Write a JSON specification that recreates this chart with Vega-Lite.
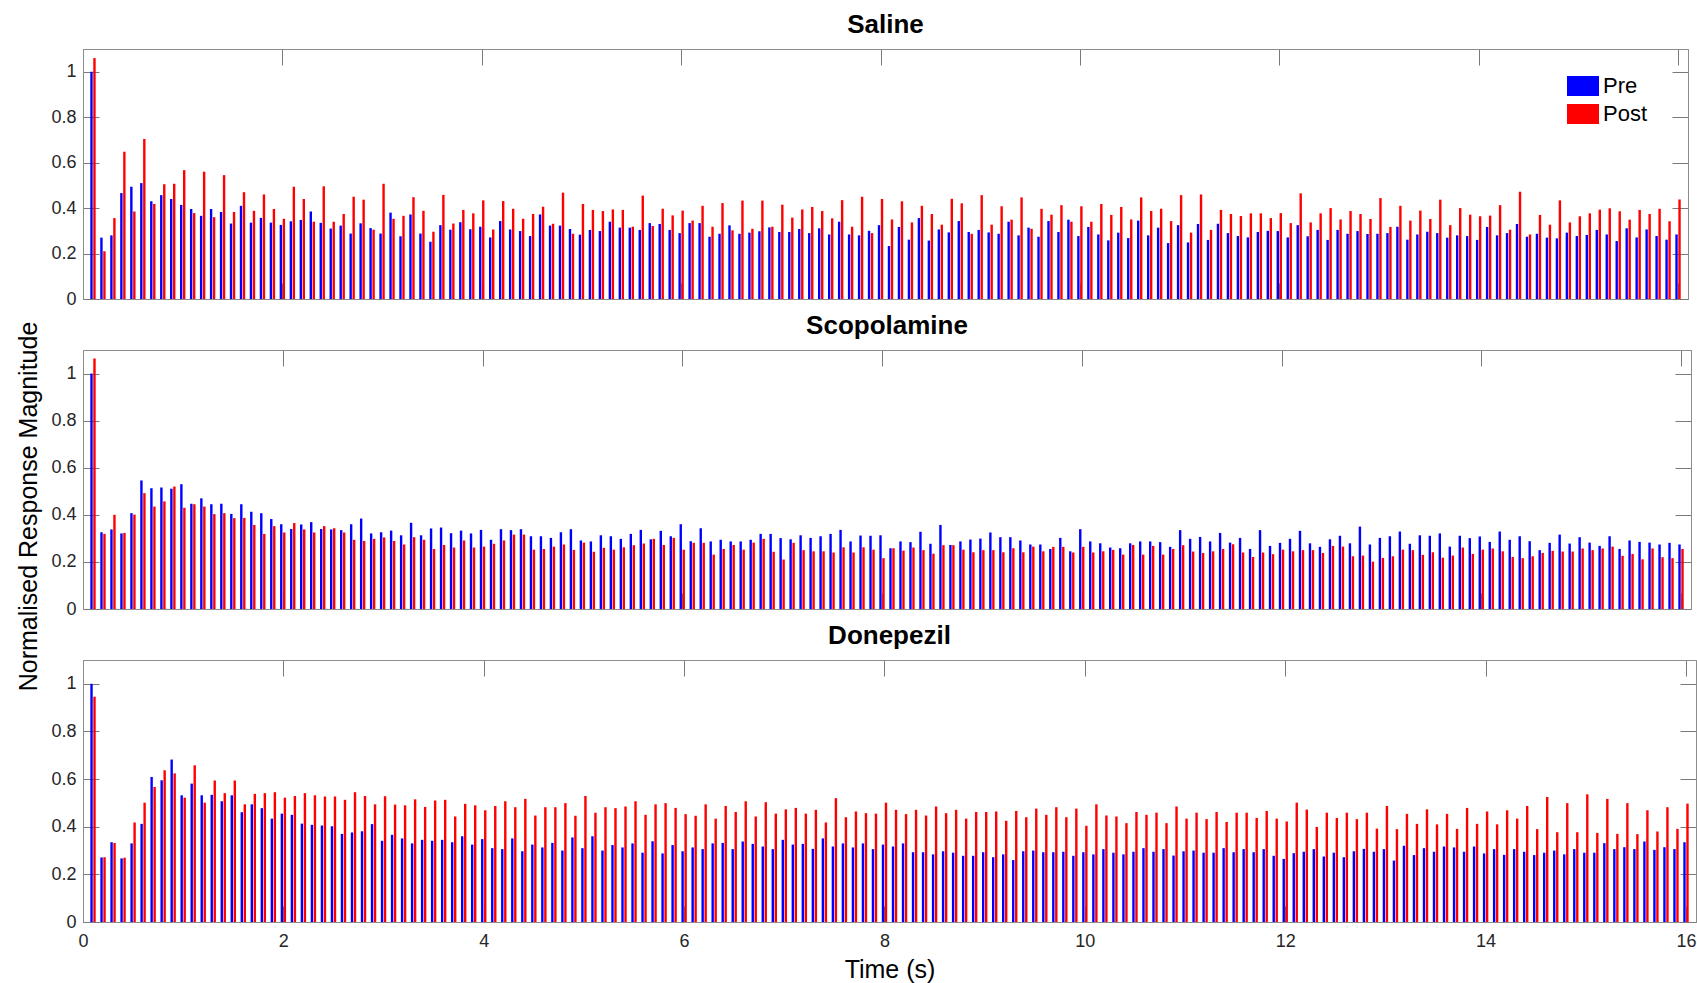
{
"$schema": "https://vega.github.io/schema/vega-lite/v6.json",
"padding": {"left": 15, "top": 11, "right": 0, "bottom": 0},
"spacing": 51,
"bounds": "flush",
"config": {
 "font": "Liberation Sans",
 "view": {"stroke": "#8c8c8c", "strokeWidth": 1},
 "axis": {"labelFont": "Liberation Sans", "labelFontSize": 18, "labelColor": "#262626", "tickColor": "#7a7a7a", "tickSize": -16, "domainColor": "#8c8c8c", "grid": false, "titleFont": "Liberation Sans", "titleFontSize": 25, "titleFontWeight": "normal", "titleColor": "#000000", "zindex": 1},
 "title": {"font": "Liberation Sans", "fontSize": 26, "fontWeight": "bold", "color": "#000000", "anchor": "middle", "baseline": "bottom", "offset": 11, "frame": "group"}
},
"resolve": {"legend": {"color": "independent"}},
"datasets": {
"sal": [
{"t":0.1,"Pre":1.0,"Post":1.06},{"t":0.2,"Pre":0.27,"Post":0.21},{"t":0.3,"Pre":0.28,"Post":0.356},{"t":0.4,"Pre":0.466,"Post":0.648},{"t":0.5,"Pre":0.494,"Post":0.385},{"t":0.6,"Pre":0.51,"Post":0.704},{"t":0.7,"Pre":0.43,"Post":0.418},{"t":0.8,"Pre":0.457,"Post":0.505},{"t":0.9,"Pre":0.44,"Post":0.507},{"t":1.0,"Pre":0.414,"Post":0.567},
{"t":1.1,"Pre":0.396,"Post":0.378},{"t":1.2,"Pre":0.366,"Post":0.56},{"t":1.3,"Pre":0.396,"Post":0.36},{"t":1.4,"Pre":0.383,"Post":0.545},{"t":1.5,"Pre":0.332,"Post":0.383},{"t":1.6,"Pre":0.41,"Post":0.47},{"t":1.7,"Pre":0.336,"Post":0.388},{"t":1.8,"Pre":0.357,"Post":0.46},{"t":1.9,"Pre":0.336,"Post":0.396},{"t":2.0,"Pre":0.326,"Post":0.353},
{"t":2.1,"Pre":0.342,"Post":0.494},{"t":2.2,"Pre":0.348,"Post":0.44},{"t":2.3,"Pre":0.385,"Post":0.34},{"t":2.4,"Pre":0.335,"Post":0.496},{"t":2.5,"Pre":0.31,"Post":0.34},{"t":2.6,"Pre":0.323,"Post":0.374},{"t":2.7,"Pre":0.288,"Post":0.45},{"t":2.8,"Pre":0.333,"Post":0.437},{"t":2.9,"Pre":0.312,"Post":0.305},{"t":3.0,"Pre":0.288,"Post":0.507},
{"t":3.1,"Pre":0.38,"Post":0.353},{"t":3.2,"Pre":0.276,"Post":0.366},{"t":3.3,"Pre":0.372,"Post":0.448},{"t":3.4,"Pre":0.288,"Post":0.388},{"t":3.5,"Pre":0.252,"Post":0.296},{"t":3.6,"Pre":0.325,"Post":0.458},{"t":3.7,"Pre":0.305,"Post":0.332},{"t":3.8,"Pre":0.338,"Post":0.392},{"t":3.9,"Pre":0.307,"Post":0.377},{"t":4.0,"Pre":0.318,"Post":0.434},
{"t":4.1,"Pre":0.271,"Post":0.306},{"t":4.2,"Pre":0.343,"Post":0.431},{"t":4.3,"Pre":0.306,"Post":0.397},{"t":4.4,"Pre":0.299,"Post":0.353},{"t":4.5,"Pre":0.277,"Post":0.374},{"t":4.6,"Pre":0.372,"Post":0.406},{"t":4.7,"Pre":0.323,"Post":0.331},{"t":4.8,"Pre":0.323,"Post":0.468},{"t":4.9,"Pre":0.308,"Post":0.287},{"t":5.0,"Pre":0.283,"Post":0.418},
{"t":5.1,"Pre":0.304,"Post":0.392},{"t":5.2,"Pre":0.299,"Post":0.387},{"t":5.3,"Pre":0.34,"Post":0.394},{"t":5.4,"Pre":0.314,"Post":0.392},{"t":5.5,"Pre":0.314,"Post":0.318},{"t":5.6,"Pre":0.304,"Post":0.455},{"t":5.7,"Pre":0.334,"Post":0.321},{"t":5.8,"Pre":0.33,"Post":0.397},{"t":5.9,"Pre":0.304,"Post":0.368},{"t":6.0,"Pre":0.29,"Post":0.389},
{"t":6.1,"Pre":0.334,"Post":0.345},{"t":6.2,"Pre":0.334,"Post":0.41},{"t":6.3,"Pre":0.274,"Post":0.318},{"t":6.4,"Pre":0.287,"Post":0.422},{"t":6.5,"Pre":0.324,"Post":0.302},{"t":6.6,"Pre":0.287,"Post":0.433},{"t":6.7,"Pre":0.292,"Post":0.309},{"t":6.8,"Pre":0.298,"Post":0.433},{"t":6.9,"Pre":0.315,"Post":0.318},{"t":7.0,"Pre":0.295,"Post":0.415},
{"t":7.1,"Pre":0.295,"Post":0.358},{"t":7.2,"Pre":0.308,"Post":0.394},{"t":7.3,"Pre":0.29,"Post":0.405},{"t":7.4,"Pre":0.311,"Post":0.387},{"t":7.5,"Pre":0.284,"Post":0.355},{"t":7.6,"Pre":0.34,"Post":0.435},{"t":7.7,"Pre":0.284,"Post":0.318},{"t":7.8,"Pre":0.28,"Post":0.45},{"t":7.9,"Pre":0.3,"Post":0.29},{"t":8.0,"Pre":0.325,"Post":0.44},
{"t":8.1,"Pre":0.233,"Post":0.35},{"t":8.2,"Pre":0.317,"Post":0.43},{"t":8.3,"Pre":0.261,"Post":0.337},{"t":8.4,"Pre":0.356,"Post":0.41},{"t":8.5,"Pre":0.257,"Post":0.374},{"t":8.6,"Pre":0.306,"Post":0.327},{"t":8.7,"Pre":0.293,"Post":0.441},{"t":8.8,"Pre":0.343,"Post":0.421},{"t":8.9,"Pre":0.295,"Post":0.287},{"t":9.0,"Pre":0.304,"Post":0.457},
{"t":9.1,"Pre":0.293,"Post":0.327},{"t":9.2,"Pre":0.287,"Post":0.408},{"t":9.3,"Pre":0.34,"Post":0.349},{"t":9.4,"Pre":0.28,"Post":0.447},{"t":9.5,"Pre":0.314,"Post":0.309},{"t":9.6,"Pre":0.274,"Post":0.397},{"t":9.7,"Pre":0.343,"Post":0.371},{"t":9.8,"Pre":0.295,"Post":0.413},{"t":9.9,"Pre":0.349,"Post":0.34},{"t":10.0,"Pre":0.277,"Post":0.408},
{"t":10.1,"Pre":0.317,"Post":0.34},{"t":10.2,"Pre":0.284,"Post":0.418},{"t":10.3,"Pre":0.258,"Post":0.37},{"t":10.4,"Pre":0.292,"Post":0.405},{"t":10.5,"Pre":0.268,"Post":0.35},{"t":10.6,"Pre":0.345,"Post":0.447},{"t":10.7,"Pre":0.28,"Post":0.387},{"t":10.8,"Pre":0.314,"Post":0.397},{"t":10.9,"Pre":0.246,"Post":0.343},{"t":11.0,"Pre":0.325,"Post":0.457},
{"t":11.1,"Pre":0.249,"Post":0.292},{"t":11.2,"Pre":0.33,"Post":0.46},{"t":11.3,"Pre":0.26,"Post":0.304},{"t":11.4,"Pre":0.331,"Post":0.392},{"t":11.5,"Pre":0.29,"Post":0.374},{"t":11.6,"Pre":0.277,"Post":0.365},{"t":11.7,"Pre":0.271,"Post":0.377},{"t":11.8,"Pre":0.295,"Post":0.377},{"t":11.9,"Pre":0.3,"Post":0.356},{"t":12.0,"Pre":0.299,"Post":0.378},
{"t":12.1,"Pre":0.271,"Post":0.334},{"t":12.2,"Pre":0.325,"Post":0.465},{"t":12.3,"Pre":0.276,"Post":0.337},{"t":12.4,"Pre":0.304,"Post":0.377},{"t":12.5,"Pre":0.26,"Post":0.4},{"t":12.6,"Pre":0.304,"Post":0.35},{"t":12.7,"Pre":0.287,"Post":0.387},{"t":12.8,"Pre":0.299,"Post":0.374},{"t":12.9,"Pre":0.286,"Post":0.352},{"t":13.0,"Pre":0.287,"Post":0.444},
{"t":13.1,"Pre":0.29,"Post":0.317},{"t":13.2,"Pre":0.318,"Post":0.41},{"t":13.3,"Pre":0.261,"Post":0.345},{"t":13.4,"Pre":0.284,"Post":0.389},{"t":13.5,"Pre":0.296,"Post":0.352},{"t":13.6,"Pre":0.29,"Post":0.437},{"t":13.7,"Pre":0.27,"Post":0.325},{"t":13.8,"Pre":0.28,"Post":0.4},{"t":13.9,"Pre":0.277,"Post":0.371},{"t":14.0,"Pre":0.26,"Post":0.364},
{"t":14.1,"Pre":0.317,"Post":0.367},{"t":14.2,"Pre":0.28,"Post":0.413},{"t":14.3,"Pre":0.29,"Post":0.305},{"t":14.4,"Pre":0.33,"Post":0.472},{"t":14.5,"Pre":0.274,"Post":0.284},{"t":14.6,"Pre":0.287,"Post":0.37},{"t":14.7,"Pre":0.27,"Post":0.327},{"t":14.8,"Pre":0.267,"Post":0.434},{"t":14.9,"Pre":0.292,"Post":0.337},{"t":15.0,"Pre":0.277,"Post":0.364},
{"t":15.1,"Pre":0.282,"Post":0.377},{"t":15.2,"Pre":0.304,"Post":0.393},{"t":15.3,"Pre":0.284,"Post":0.399},{"t":15.4,"Pre":0.255,"Post":0.386},{"t":15.5,"Pre":0.311,"Post":0.349},{"t":15.6,"Pre":0.271,"Post":0.392},{"t":15.7,"Pre":0.306,"Post":0.374},{"t":15.8,"Pre":0.277,"Post":0.397},{"t":15.9,"Pre":0.261,"Post":0.342},{"t":16.0,"Pre":0.284,"Post":0.438}
],
"sco": [
{"t":0.1,"Pre":1.0,"Post":1.064},{"t":0.2,"Pre":0.326,"Post":0.319},{"t":0.3,"Pre":0.338,"Post":0.4},{"t":0.4,"Pre":0.321,"Post":0.323},{"t":0.5,"Pre":0.407,"Post":0.401},{"t":0.6,"Pre":0.546,"Post":0.492},{"t":0.7,"Pre":0.513,"Post":0.435},{"t":0.8,"Pre":0.516,"Post":0.457},{"t":0.9,"Pre":0.511,"Post":0.52},{"t":1.0,"Pre":0.53,"Post":0.43},
{"t":1.1,"Pre":0.447,"Post":0.445},{"t":1.2,"Pre":0.47,"Post":0.435},{"t":1.3,"Pre":0.445,"Post":0.403},{"t":1.4,"Pre":0.447,"Post":0.407},{"t":1.5,"Pre":0.404,"Post":0.386},{"t":1.6,"Pre":0.445,"Post":0.387},{"t":1.7,"Pre":0.413,"Post":0.357},{"t":1.8,"Pre":0.407,"Post":0.319},{"t":1.9,"Pre":0.382,"Post":0.352},{"t":2.0,"Pre":0.36,"Post":0.325},
{"t":2.1,"Pre":0.34,"Post":0.365},{"t":2.2,"Pre":0.359,"Post":0.338},{"t":2.3,"Pre":0.369,"Post":0.325},{"t":2.4,"Pre":0.34,"Post":0.352},{"t":2.5,"Pre":0.338,"Post":0.343},{"t":2.6,"Pre":0.335,"Post":0.325},{"t":2.7,"Pre":0.36,"Post":0.294},{"t":2.8,"Pre":0.384,"Post":0.289},{"t":2.9,"Pre":0.321,"Post":0.298},{"t":3.0,"Pre":0.326,"Post":0.304},
{"t":3.1,"Pre":0.333,"Post":0.289},{"t":3.2,"Pre":0.313,"Post":0.274},{"t":3.3,"Pre":0.366,"Post":0.305},{"t":3.4,"Pre":0.313,"Post":0.294},{"t":3.5,"Pre":0.342,"Post":0.255},{"t":3.6,"Pre":0.346,"Post":0.272},{"t":3.7,"Pre":0.322,"Post":0.261},{"t":3.8,"Pre":0.333,"Post":0.291},{"t":3.9,"Pre":0.321,"Post":0.261},{"t":4.0,"Pre":0.336,"Post":0.265},
{"t":4.1,"Pre":0.294,"Post":0.277},{"t":4.2,"Pre":0.339,"Post":0.291},{"t":4.3,"Pre":0.335,"Post":0.316},{"t":4.4,"Pre":0.339,"Post":0.316},{"t":4.5,"Pre":0.309,"Post":0.252},{"t":4.6,"Pre":0.309,"Post":0.255},{"t":4.7,"Pre":0.302,"Post":0.265},{"t":4.8,"Pre":0.326,"Post":0.274},{"t":4.9,"Pre":0.339,"Post":0.251},{"t":5.0,"Pre":0.291,"Post":0.282},
{"t":5.1,"Pre":0.287,"Post":0.243},{"t":5.2,"Pre":0.313,"Post":0.26},{"t":5.3,"Pre":0.309,"Post":0.252},{"t":5.4,"Pre":0.298,"Post":0.262},{"t":5.5,"Pre":0.319,"Post":0.271},{"t":5.6,"Pre":0.336,"Post":0.278},{"t":5.7,"Pre":0.296,"Post":0.298},{"t":5.8,"Pre":0.332,"Post":0.272},{"t":5.9,"Pre":0.309,"Post":0.302},{"t":6.0,"Pre":0.36,"Post":0.252},
{"t":6.1,"Pre":0.288,"Post":0.281},{"t":6.2,"Pre":0.343,"Post":0.281},{"t":6.3,"Pre":0.287,"Post":0.231},{"t":6.4,"Pre":0.294,"Post":0.255},{"t":6.5,"Pre":0.287,"Post":0.272},{"t":6.6,"Pre":0.287,"Post":0.252},{"t":6.7,"Pre":0.294,"Post":0.282},{"t":6.8,"Pre":0.319,"Post":0.298},{"t":6.9,"Pre":0.319,"Post":0.243},{"t":7.0,"Pre":0.301,"Post":0.21},
{"t":7.1,"Pre":0.296,"Post":0.281},{"t":7.2,"Pre":0.313,"Post":0.25},{"t":7.3,"Pre":0.302,"Post":0.245},{"t":7.4,"Pre":0.309,"Post":0.245},{"t":7.5,"Pre":0.319,"Post":0.24},{"t":7.6,"Pre":0.336,"Post":0.262},{"t":7.7,"Pre":0.287,"Post":0.24},{"t":7.8,"Pre":0.312,"Post":0.262},{"t":7.9,"Pre":0.311,"Post":0.252},{"t":8.0,"Pre":0.313,"Post":0.216},
{"t":8.1,"Pre":0.258,"Post":0.258},{"t":8.2,"Pre":0.287,"Post":0.248},{"t":8.3,"Pre":0.284,"Post":0.261},{"t":8.4,"Pre":0.328,"Post":0.25},{"t":8.5,"Pre":0.277,"Post":0.235},{"t":8.6,"Pre":0.357,"Post":0.271},{"t":8.7,"Pre":0.272,"Post":0.271},{"t":8.8,"Pre":0.287,"Post":0.252},{"t":8.9,"Pre":0.295,"Post":0.241},{"t":9.0,"Pre":0.299,"Post":0.25},
{"t":9.1,"Pre":0.325,"Post":0.25},{"t":9.2,"Pre":0.305,"Post":0.241},{"t":9.3,"Pre":0.305,"Post":0.258},{"t":9.4,"Pre":0.291,"Post":0.241},{"t":9.5,"Pre":0.274,"Post":0.265},{"t":9.6,"Pre":0.274,"Post":0.245},{"t":9.7,"Pre":0.255,"Post":0.264},{"t":9.8,"Pre":0.302,"Post":0.264},{"t":9.9,"Pre":0.245,"Post":0.24},{"t":10.0,"Pre":0.339,"Post":0.264},
{"t":10.1,"Pre":0.287,"Post":0.24},{"t":10.2,"Pre":0.279,"Post":0.245},{"t":10.3,"Pre":0.261,"Post":0.251},{"t":10.4,"Pre":0.258,"Post":0.231},{"t":10.5,"Pre":0.279,"Post":0.272},{"t":10.6,"Pre":0.287,"Post":0.231},{"t":10.7,"Pre":0.287,"Post":0.268},{"t":10.8,"Pre":0.284,"Post":0.231},{"t":10.9,"Pre":0.264,"Post":0.255},{"t":11.0,"Pre":0.335,"Post":0.271},
{"t":11.1,"Pre":0.298,"Post":0.244},{"t":11.2,"Pre":0.306,"Post":0.238},{"t":11.3,"Pre":0.287,"Post":0.245},{"t":11.4,"Pre":0.323,"Post":0.255},{"t":11.5,"Pre":0.282,"Post":0.275},{"t":11.6,"Pre":0.302,"Post":0.24},{"t":11.7,"Pre":0.255,"Post":0.221},{"t":11.8,"Pre":0.335,"Post":0.24},{"t":11.9,"Pre":0.268,"Post":0.233},{"t":12.0,"Pre":0.281,"Post":0.252},
{"t":12.1,"Pre":0.298,"Post":0.245},{"t":12.2,"Pre":0.332,"Post":0.25},{"t":12.3,"Pre":0.279,"Post":0.25},{"t":12.4,"Pre":0.264,"Post":0.238},{"t":12.5,"Pre":0.296,"Post":0.268},{"t":12.6,"Pre":0.311,"Post":0.265},{"t":12.7,"Pre":0.279,"Post":0.224},{"t":12.8,"Pre":0.35,"Post":0.227},{"t":12.9,"Pre":0.274,"Post":0.201},{"t":13.0,"Pre":0.302,"Post":0.217},
{"t":13.1,"Pre":0.309,"Post":0.224},{"t":13.2,"Pre":0.329,"Post":0.252},{"t":13.3,"Pre":0.277,"Post":0.25},{"t":13.4,"Pre":0.313,"Post":0.23},{"t":13.5,"Pre":0.311,"Post":0.241},{"t":13.6,"Pre":0.321,"Post":0.218},{"t":13.7,"Pre":0.265,"Post":0.227},{"t":13.8,"Pre":0.311,"Post":0.261},{"t":13.9,"Pre":0.301,"Post":0.234},{"t":14.0,"Pre":0.308,"Post":0.252},
{"t":14.1,"Pre":0.285,"Post":0.257},{"t":14.2,"Pre":0.329,"Post":0.245},{"t":14.3,"Pre":0.294,"Post":0.221},{"t":14.4,"Pre":0.309,"Post":0.216},{"t":14.5,"Pre":0.288,"Post":0.224},{"t":14.6,"Pre":0.25,"Post":0.238},{"t":14.7,"Pre":0.281,"Post":0.247},{"t":14.8,"Pre":0.316,"Post":0.244},{"t":14.9,"Pre":0.278,"Post":0.244},{"t":15.0,"Pre":0.305,"Post":0.257},
{"t":15.1,"Pre":0.282,"Post":0.25},{"t":15.2,"Pre":0.268,"Post":0.257},{"t":15.3,"Pre":0.309,"Post":0.265},{"t":15.4,"Pre":0.255,"Post":0.226},{"t":15.5,"Pre":0.291,"Post":0.234},{"t":15.6,"Pre":0.285,"Post":0.211},{"t":15.7,"Pre":0.282,"Post":0.257},{"t":15.8,"Pre":0.274,"Post":0.22},{"t":15.9,"Pre":0.281,"Post":0.216},{"t":16.0,"Pre":0.274,"Post":0.255}
],
"don": [
{"t":0.1,"Pre":1.0,"Post":0.946},{"t":0.2,"Pre":0.271,"Post":0.272},{"t":0.3,"Pre":0.335,"Post":0.332},{"t":0.4,"Pre":0.267,"Post":0.27},{"t":0.5,"Pre":0.33,"Post":0.418},{"t":0.6,"Pre":0.412,"Post":0.501},{"t":0.7,"Pre":0.609,"Post":0.567},{"t":0.8,"Pre":0.595,"Post":0.637},{"t":0.9,"Pre":0.682,"Post":0.624},{"t":1.0,"Pre":0.532,"Post":0.522},
{"t":1.1,"Pre":0.581,"Post":0.658},{"t":1.2,"Pre":0.532,"Post":0.501},{"t":1.3,"Pre":0.534,"Post":0.594},{"t":1.4,"Pre":0.507,"Post":0.541},{"t":1.5,"Pre":0.532,"Post":0.594},{"t":1.6,"Pre":0.461,"Post":0.494},{"t":1.7,"Pre":0.494,"Post":0.538},{"t":1.8,"Pre":0.478,"Post":0.541},{"t":1.9,"Pre":0.434,"Post":0.545},{"t":2.0,"Pre":0.455,"Post":0.522},
{"t":2.1,"Pre":0.45,"Post":0.529},{"t":2.2,"Pre":0.413,"Post":0.541},{"t":2.3,"Pre":0.408,"Post":0.532},{"t":2.4,"Pre":0.405,"Post":0.527},{"t":2.5,"Pre":0.402,"Post":0.527},{"t":2.6,"Pre":0.37,"Post":0.513},{"t":2.7,"Pre":0.376,"Post":0.545},{"t":2.8,"Pre":0.381,"Post":0.529},{"t":2.9,"Pre":0.411,"Post":0.494},{"t":3.0,"Pre":0.341,"Post":0.528},
{"t":3.1,"Pre":0.366,"Post":0.493},{"t":3.2,"Pre":0.351,"Post":0.49},{"t":3.3,"Pre":0.33,"Post":0.515},{"t":3.4,"Pre":0.345,"Post":0.483},{"t":3.5,"Pre":0.341,"Post":0.51},{"t":3.6,"Pre":0.345,"Post":0.513},{"t":3.7,"Pre":0.335,"Post":0.443},{"t":3.8,"Pre":0.36,"Post":0.496},{"t":3.9,"Pre":0.325,"Post":0.49},{"t":4.0,"Pre":0.348,"Post":0.469},
{"t":4.1,"Pre":0.31,"Post":0.487},{"t":4.2,"Pre":0.306,"Post":0.507},{"t":4.3,"Pre":0.351,"Post":0.482},{"t":4.4,"Pre":0.297,"Post":0.517},{"t":4.5,"Pre":0.325,"Post":0.447},{"t":4.6,"Pre":0.313,"Post":0.482},{"t":4.7,"Pre":0.332,"Post":0.482},{"t":4.8,"Pre":0.3,"Post":0.499},{"t":4.9,"Pre":0.355,"Post":0.446},{"t":5.0,"Pre":0.31,"Post":0.529},
{"t":5.1,"Pre":0.36,"Post":0.459},{"t":5.2,"Pre":0.3,"Post":0.482},{"t":5.3,"Pre":0.323,"Post":0.478},{"t":5.4,"Pre":0.313,"Post":0.485},{"t":5.5,"Pre":0.33,"Post":0.507},{"t":5.6,"Pre":0.291,"Post":0.45},{"t":5.7,"Pre":0.339,"Post":0.494},{"t":5.8,"Pre":0.288,"Post":0.499},{"t":5.9,"Pre":0.323,"Post":0.479},{"t":6.0,"Pre":0.297,"Post":0.453},
{"t":6.1,"Pre":0.313,"Post":0.446},{"t":6.2,"Pre":0.306,"Post":0.494},{"t":6.3,"Pre":0.33,"Post":0.434},{"t":6.4,"Pre":0.332,"Post":0.487},{"t":6.5,"Pre":0.306,"Post":0.462},{"t":6.6,"Pre":0.338,"Post":0.507},{"t":6.7,"Pre":0.328,"Post":0.443},{"t":6.8,"Pre":0.317,"Post":0.503},{"t":6.9,"Pre":0.306,"Post":0.455},{"t":7.0,"Pre":0.345,"Post":0.473},
{"t":7.1,"Pre":0.325,"Post":0.479},{"t":7.2,"Pre":0.328,"Post":0.455},{"t":7.3,"Pre":0.307,"Post":0.471},{"t":7.4,"Pre":0.351,"Post":0.418},{"t":7.5,"Pre":0.317,"Post":0.52},{"t":7.6,"Pre":0.33,"Post":0.44},{"t":7.7,"Pre":0.313,"Post":0.464},{"t":7.8,"Pre":0.33,"Post":0.457},{"t":7.9,"Pre":0.306,"Post":0.455},{"t":8.0,"Pre":0.325,"Post":0.501},
{"t":8.1,"Pre":0.317,"Post":0.471},{"t":8.2,"Pre":0.33,"Post":0.453},{"t":8.3,"Pre":0.293,"Post":0.471},{"t":8.4,"Pre":0.293,"Post":0.447},{"t":8.5,"Pre":0.284,"Post":0.485},{"t":8.6,"Pre":0.297,"Post":0.457},{"t":8.7,"Pre":0.291,"Post":0.471},{"t":8.8,"Pre":0.278,"Post":0.434},{"t":8.9,"Pre":0.278,"Post":0.462},{"t":9.0,"Pre":0.293,"Post":0.462},
{"t":9.1,"Pre":0.272,"Post":0.464},{"t":9.2,"Pre":0.284,"Post":0.425},{"t":9.3,"Pre":0.26,"Post":0.466},{"t":9.4,"Pre":0.297,"Post":0.44},{"t":9.5,"Pre":0.3,"Post":0.476},{"t":9.6,"Pre":0.293,"Post":0.45},{"t":9.7,"Pre":0.293,"Post":0.482},{"t":9.8,"Pre":0.295,"Post":0.44},{"t":9.9,"Pre":0.278,"Post":0.476},{"t":10.0,"Pre":0.293,"Post":0.404},
{"t":10.1,"Pre":0.284,"Post":0.494},{"t":10.2,"Pre":0.306,"Post":0.447},{"t":10.3,"Pre":0.291,"Post":0.443},{"t":10.4,"Pre":0.284,"Post":0.415},{"t":10.5,"Pre":0.295,"Post":0.462},{"t":10.6,"Pre":0.31,"Post":0.45},{"t":10.7,"Pre":0.295,"Post":0.459},{"t":10.8,"Pre":0.306,"Post":0.415},{"t":10.9,"Pre":0.279,"Post":0.485},{"t":11.0,"Pre":0.297,"Post":0.434},
{"t":11.1,"Pre":0.3,"Post":0.459},{"t":11.2,"Pre":0.291,"Post":0.432},{"t":11.3,"Pre":0.291,"Post":0.462},{"t":11.4,"Pre":0.31,"Post":0.42},{"t":11.5,"Pre":0.293,"Post":0.459},{"t":11.6,"Pre":0.306,"Post":0.459},{"t":11.7,"Pre":0.293,"Post":0.437},{"t":11.8,"Pre":0.306,"Post":0.466},{"t":11.9,"Pre":0.278,"Post":0.434},{"t":12.0,"Pre":0.265,"Post":0.422},
{"t":12.1,"Pre":0.289,"Post":0.501},{"t":12.2,"Pre":0.295,"Post":0.472},{"t":12.3,"Pre":0.306,"Post":0.399},{"t":12.4,"Pre":0.275,"Post":0.459},{"t":12.5,"Pre":0.291,"Post":0.437},{"t":12.6,"Pre":0.272,"Post":0.459},{"t":12.7,"Pre":0.297,"Post":0.432},{"t":12.8,"Pre":0.307,"Post":0.459},{"t":12.9,"Pre":0.295,"Post":0.392},{"t":13.0,"Pre":0.306,"Post":0.487},
{"t":13.1,"Pre":0.258,"Post":0.39},{"t":13.2,"Pre":0.32,"Post":0.454},{"t":13.3,"Pre":0.281,"Post":0.412},{"t":13.4,"Pre":0.31,"Post":0.473},{"t":13.5,"Pre":0.295,"Post":0.41},{"t":13.6,"Pre":0.317,"Post":0.454},{"t":13.7,"Pre":0.313,"Post":0.391},{"t":13.8,"Pre":0.295,"Post":0.479},{"t":13.9,"Pre":0.317,"Post":0.412},{"t":14.0,"Pre":0.288,"Post":0.464},
{"t":14.1,"Pre":0.306,"Post":0.41},{"t":14.2,"Pre":0.282,"Post":0.469},{"t":14.3,"Pre":0.306,"Post":0.434},{"t":14.4,"Pre":0.295,"Post":0.487},{"t":14.5,"Pre":0.281,"Post":0.39},{"t":14.6,"Pre":0.291,"Post":0.525},{"t":14.7,"Pre":0.3,"Post":0.377},{"t":14.8,"Pre":0.284,"Post":0.499},{"t":14.9,"Pre":0.306,"Post":0.377},{"t":15.0,"Pre":0.291,"Post":0.536},
{"t":15.1,"Pre":0.291,"Post":0.374},{"t":15.2,"Pre":0.331,"Post":0.517},{"t":15.3,"Pre":0.306,"Post":0.37},{"t":15.4,"Pre":0.314,"Post":0.499},{"t":15.5,"Pre":0.306,"Post":0.369},{"t":15.6,"Pre":0.338,"Post":0.469},{"t":15.7,"Pre":0.303,"Post":0.38},{"t":15.8,"Pre":0.314,"Post":0.482},{"t":15.9,"Pre":0.306,"Post":0.391},{"t":16.0,"Pre":0.335,"Post":0.497}
]
},
"vconcat": [
{
 "title": "Saline",
 "width": 1605, "height": 250,
 "data": {"name": "sal"},
 "transform": [{"fold": ["Pre", "Post"], "as": ["g", "v"]}],
 "resolve": {"scale": {"x": "independent", "y": "independent"}},
 "layer": [
  {"transform": [{"filter": "datum.g === 'Pre'"}],
   "mark": {"type": "bar", "orient": "vertical", "width": 2.4, "xOffset": -1.5},
   "encoding": {
    "x": {"field": "t", "type": "quantitative", "scale": {"domain": [0, 16.1], "nice": false, "zero": false, "padding": 0}, "axis": {"values": [0,2,4,6,8,10,12,14,16], "labels": false, "title": null}},
    "y": {"field": "v", "type": "quantitative", "scale": {"domain": [0, 1.1], "nice": false}, "axis": {"values": [0,0.2,0.4,0.6,0.8,1], "format": "~g", "labelPadding": 23, "title": "Normalised Response Magnitude", "titleX": -55, "titleY": 457, "titleAngle": 270, "titleAlign": "center", "titleBaseline": "middle"}},
    "color": {"field": "g", "type": "nominal", "scale": {"domain": ["Pre", "Post"], "range": ["#0000ff", "#ff0000"]},
      "legend": {"orient": "none", "legendX": 1489, "legendY": 26, "title": null, "symbolType": "M-1.6,-1H1.6V1H-1.6Z", "symbolSize": 400, "labelFontSize": 22, "labelFont": "Liberation Sans", "labelColor": "#000000", "labelOffset": 9, "rowPadding": 6, "symbolStrokeWidth": 0, "symbolOpacity": 1, "padding": 0}}
   }},
  {"transform": [{"filter": "datum.g === 'Post'"}],
   "mark": {"type": "bar", "orient": "vertical", "width": 2.4, "xOffset": 1.5},
   "encoding": {
    "x": {"field": "t", "type": "quantitative", "scale": {"domain": [0, 16.1], "nice": false, "zero": false, "padding": 0}, "axis": {"orient": "top", "values": [0,2,4,6,8,10,12,14,16], "labels": false, "title": null}},
    "y": {"field": "v", "type": "quantitative", "scale": {"domain": [0, 1.1], "nice": false}, "axis": {"orient": "right", "values": [0,0.2,0.4,0.6,0.8,1], "labels": false, "title": null}},
    "color": {"field": "g", "type": "nominal", "scale": {"domain": ["Pre", "Post"], "range": ["#0000ff", "#ff0000"]},
      "legend": {"orient": "none", "legendX": 1489, "legendY": 26, "title": null, "symbolType": "M-1.6,-1H1.6V1H-1.6Z", "symbolSize": 400, "labelFontSize": 22, "labelFont": "Liberation Sans", "labelColor": "#000000", "labelOffset": 9, "rowPadding": 6, "symbolStrokeWidth": 0, "symbolOpacity": 1, "padding": 0}}
   }}
 ]
},
{
 "title": "Scopolamine",
 "width": 1608, "height": 259,
 "data": {"name": "sco"},
 "transform": [{"fold": ["Pre", "Post"], "as": ["g", "v"]}],
 "resolve": {"scale": {"x": "independent", "y": "independent"}},
 "layer": [
  {"transform": [{"filter": "datum.g === 'Pre'"}],
   "mark": {"type": "bar", "orient": "vertical", "width": 2.4, "xOffset": -1.5, "color": "#0000ff"},
   "encoding": {
    "x": {"field": "t", "type": "quantitative", "scale": {"domain": [0, 16.1], "nice": false, "zero": false, "padding": 0}, "axis": {"values": [0,2,4,6,8,10,12,14,16], "labels": false, "title": null}},
    "y": {"field": "v", "type": "quantitative", "scale": {"domain": [0, 1.1], "nice": false}, "axis": {"values": [0,0.2,0.4,0.6,0.8,1], "format": "~g", "labelPadding": 23, "title": null}}
   }},
  {"transform": [{"filter": "datum.g === 'Post'"}],
   "mark": {"type": "bar", "orient": "vertical", "width": 2.4, "xOffset": 1.5, "color": "#ff0000"},
   "encoding": {
    "x": {"field": "t", "type": "quantitative", "scale": {"domain": [0, 16.1], "nice": false, "zero": false, "padding": 0}, "axis": {"orient": "top", "values": [0,2,4,6,8,10,12,14,16], "labels": false, "title": null}},
    "y": {"field": "v", "type": "quantitative", "scale": {"domain": [0, 1.1], "nice": false}, "axis": {"orient": "right", "values": [0,0.2,0.4,0.6,0.8,1], "labels": false, "title": null}}
   }}
 ]
},
{
 "title": "Donepezil",
 "width": 1613, "height": 262,
 "data": {"name": "don"},
 "transform": [{"fold": ["Pre", "Post"], "as": ["g", "v"]}],
 "resolve": {"scale": {"x": "independent", "y": "independent"}},
 "layer": [
  {"transform": [{"filter": "datum.g === 'Pre'"}],
   "mark": {"type": "bar", "orient": "vertical", "width": 2.4, "xOffset": -1.5, "color": "#0000ff"},
   "encoding": {
    "x": {"field": "t", "type": "quantitative", "scale": {"domain": [0, 16.1], "nice": false, "zero": false, "padding": 0}, "axis": {"values": [0,2,4,6,8,10,12,14,16], "format": "d", "labelFlush": false, "labelPadding": 26, "title": "Time (s)", "titlePadding": 7}},
    "y": {"field": "v", "type": "quantitative", "scale": {"domain": [0, 1.1], "nice": false}, "axis": {"values": [0,0.2,0.4,0.6,0.8,1], "format": "~g", "labelPadding": 23, "title": null}}
   }},
  {"transform": [{"filter": "datum.g === 'Post'"}],
   "mark": {"type": "bar", "orient": "vertical", "width": 2.4, "xOffset": 1.5, "color": "#ff0000"},
   "encoding": {
    "x": {"field": "t", "type": "quantitative", "scale": {"domain": [0, 16.1], "nice": false, "zero": false, "padding": 0}, "axis": {"orient": "top", "values": [0,2,4,6,8,10,12,14,16], "labels": false, "title": null}},
    "y": {"field": "v", "type": "quantitative", "scale": {"domain": [0, 1.1], "nice": false}, "axis": {"orient": "right", "values": [0,0.2,0.4,0.6,0.8,1], "labels": false, "title": null}}
   }}
 ]
}
]
}
